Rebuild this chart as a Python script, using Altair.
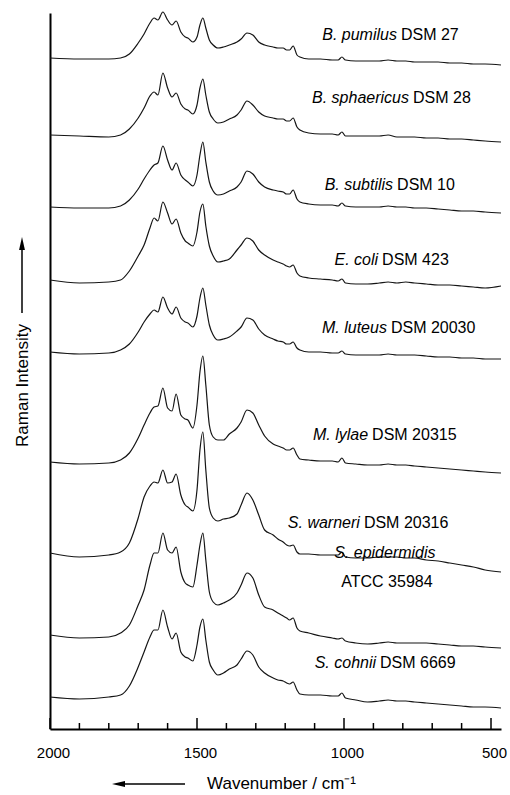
import altair as alt
import pandas as pd

WAVENUMBER = [2000, 1900, 1800, 1760, 1730, 1700, 1680, 1660, 1646, 1633,
              1616, 1600, 1585, 1571, 1555, 1540, 1531, 1514, 1500, 1490,
              1480, 1470, 1458, 1445, 1429, 1410, 1390, 1364, 1350, 1330,
              1310, 1290, 1270, 1241, 1225, 1207, 1195, 1185, 1173, 1160,
              1150, 1120, 1080, 1040, 1020, 1007, 995, 960, 920, 880,
              850, 820, 790, 760, 720, 680, 640, 600, 560, 520, 466]

# Offset Raman intensities (a.u.), one list per strain
B_PUMILUS = [671, 670, 670, 671, 675, 686, 695, 706, 711, 709,
             717, 709, 704, 708, 697, 692, 691, 687, 692, 704,
             711, 701, 689, 684, 681, 682, 684, 687, 690, 696,
             694, 687, 684, 682, 681, 681, 679, 679, 683, 674,
             672, 670, 670, 669, 669, 672, 669, 668, 668, 668,
             669, 668, 668, 667, 667, 667, 666, 666, 665, 665, 664]
B_SPHAERICUS = [594, 593, 592, 594, 600, 611, 621, 633, 637, 634,
                656, 641, 632, 636, 625, 620, 619, 615, 624, 641,
                650, 634, 617, 610, 606, 607, 610, 614, 619, 628,
                624, 617, 613, 611, 610, 610, 608, 608, 611, 602,
                599, 596, 595, 595, 594, 597, 593, 593, 593, 593,
                594, 592, 592, 592, 591, 591, 590, 590, 589, 588, 587]
B_SUBTILIS = [522, 521, 521, 523, 529, 540, 550, 559, 564, 566,
              583, 569, 559, 566, 554, 549, 547, 543, 554, 574,
              587, 567, 547, 538, 534, 535, 538, 542, 547, 558,
              555, 547, 542, 539, 538, 537, 535, 535, 539, 530,
              527, 525, 524, 524, 523, 526, 523, 522, 522, 522,
              523, 522, 522, 521, 521, 520, 519, 518, 518, 517, 516]
E_COLI = [449, 446, 447, 449, 458, 473, 484, 501, 511, 508,
          527, 516, 505, 510, 496, 488, 486, 483, 497, 517,
          525, 503, 483, 473, 467, 468, 470, 479, 484, 491,
          488, 479, 474, 469, 467, 465, 463, 462, 464, 456,
          453, 451, 450, 449, 448, 450, 446, 445, 445, 446,
          447, 446, 447, 446, 445, 444, 444, 443, 442, 441, 443]
M_LUTEUS = [377, 375, 376, 379, 385, 397, 407, 415, 419, 417,
            432, 421, 415, 422, 411, 407, 406, 402, 413, 431,
            441, 424, 404, 394, 389, 390, 392, 398, 402, 411,
            409, 400, 394, 390, 388, 387, 385, 385, 387, 381,
            379, 377, 377, 376, 376, 378, 375, 374, 374, 374,
            375, 374, 374, 374, 373, 372, 372, 371, 371, 370, 370]
M_LYLAE = [267, 265, 266, 269, 276, 291, 304, 316, 322, 323,
           341, 321, 318, 335, 314, 310, 309, 301, 324, 357,
           373, 344, 304, 292, 289, 289, 295, 301, 307, 319,
           316, 304, 293, 285, 283, 281, 279, 279, 281, 274,
           270, 269, 268, 268, 267, 271, 266, 265, 264, 264,
           265, 264, 264, 263, 262, 261, 260, 259, 258, 257, 256]
S_WARNERI = [176, 172, 174, 177, 186, 211, 232, 243, 247, 246,
             259, 246, 247, 255, 234, 224, 222, 218, 239, 279,
             297, 259, 221, 211, 208, 210, 211, 215, 224, 236,
             229, 214, 199, 194, 190, 187, 184, 183, 184, 177,
             175, 175, 174, 174, 174, 177, 172, 171, 171, 172,
             172, 172, 171, 171, 169, 168, 166, 164, 162, 159, 157]
S_EPIDERMIDIS = [94, 91, 92, 96, 104, 124, 139, 164, 176, 176,
                 196, 179, 176, 182, 157, 146, 144, 142, 164, 184,
                 196, 169, 137, 127, 124, 126, 129, 136, 144, 156,
                 151, 134, 122, 119, 116, 113, 111, 109, 111, 101,
                 98, 96, 93, 91, 90, 91, 88, 86, 85, 86,
                 87, 86, 86, 86, 86, 85, 84, 83, 83, 82, 81]
S_COHNII = [32, 30, 32, 34, 43, 62, 77, 92, 99, 99,
            119, 102, 90, 96, 77, 72, 71, 68, 84, 102,
            110, 89, 67, 59, 54, 56, 60, 64, 70, 78,
            74, 62, 56, 51, 49, 48, 46, 45, 47, 39,
            35, 34, 34, 33, 33, 36, 31, 29, 27, 28,
            29, 28, 28, 27, 26, 25, 24, 23, 22, 22, 21]

STRAINS = ["B. pumilus DSM 27", "B. sphaericus DSM 28", "B. subtilis DSM 10",
           "E. coli DSM 423", "M. luteus DSM 20030", "M. lylae DSM 20315",
           "S. warneri DSM 20316", "S. epidermidis ATCC 35984", "S. cohnii DSM 6669"]
SERIES = [B_PUMILUS, B_SPHAERICUS, B_SUBTILIS, E_COLI, M_LUTEUS, M_LYLAE,
          S_WARNERI, S_EPIDERMIDIS, S_COHNII]

# Labels: italic species part + upright strain part, split at LABEL_WN
LABEL_SPECIES = ["B. pumilus", "B. sphaericus", "B. subtilis", "E. coli",
                 "M. luteus", "M. lylae", "S. warneri", "S. cohnii"]
LABEL_STRAIN = ["DSM 27", "DSM 28", "DSM 10", "DSM 423",
                "DSM 20030", "DSM 20315", "DSM 20316", "DSM 6669"]
LABEL_WN = [820, 779, 833, 884, 854, 918, 946, 891]
LABEL_INT = [694, 631, 544, 469, 401, 294, 206, 66]

# Two-line label for S. epidermidis (centred)
CENTER_ITALIC = ["S. epidermidis"]
CENTER_ITALIC_WN = [861]
CENTER_ITALIC_INT = [176]
CENTER_NORMAL = ["ATCC 35984"]
CENTER_NORMAL_WN = [854]
CENTER_NORMAL_INT = [147]

MAJOR_TICKS = [2000, 1500, 1000, 500]
MINOR_TICKS = [1900, 1800, 1700, 1600, 1400, 1300, 1200, 1100, 900, 800, 700, 600]

rows = []
for name, vals in zip(STRAINS, SERIES):
    assert len(vals) == len(WAVENUMBER), name
    for w, v in zip(WAVENUMBER, vals):
        rows.append({"strain": name, "wn": w, "intensity": v})
df = pd.DataFrame(rows)

FONT = "Liberation Sans"
W, H = 451, 716
x_scale = alt.Scale(domain=[466, 2000], reverse=True, nice=False, zero=False)
y_scale = alt.Scale(domain=[0, 716], nice=False, zero=False)

lines = alt.Chart(df).mark_line(
    color="#151515", strokeWidth=1.2, interpolate="monotone"
).encode(
    x=alt.X("wn:Q", scale=x_scale, axis=alt.Axis(
        values=MAJOR_TICKS, format="d", title="Wavenumber / cm⁻¹",
        ticks=False, tickSize=0, grid=False, labelFlush=False, labelOffset=3,
        labelFont=FONT, labelFontSize=15, labelColor="black", labelPadding=16,
        domainColor="black", domainWidth=2,
        titleFont=FONT, titleFontSize=17, titleFontWeight="normal", titleColor="black",
        titleX=231, titleY=54, titleAlign="center", titleBaseline="middle")),
    y=alt.Y("intensity:Q", scale=y_scale, axis=alt.Axis(
        labels=False, ticks=False, tickSize=0, grid=False,
        domainColor="black", domainWidth=2, title="Raman Intensity",
        titleFont=FONT, titleFontSize=17, titleFontWeight="normal", titleColor="black",
        titleAngle=270, titleX=-28, titleY=372, titleAlign="center",
        titleBaseline="middle")),
    detail="strain:N",
    order=alt.Order("wn:Q", sort="descending"),
)

major = alt.Chart(pd.DataFrame({"wn": MAJOR_TICKS})).mark_rule(
    color="black", strokeWidth=1.5
).encode(x=alt.X("wn:Q", scale=x_scale), y=alt.value(H), y2=alt.value(H - 11))

minor = alt.Chart(pd.DataFrame({"wn": MINOR_TICKS})).mark_rule(
    color="black", strokeWidth=1.5
).encode(x=alt.X("wn:Q", scale=x_scale), y=alt.value(H), y2=alt.value(H - 6))

lab_df = pd.DataFrame({"wn": LABEL_WN, "intensity": LABEL_INT,
                       "species": LABEL_SPECIES, "strainlab": LABEL_STRAIN})

lab_it = alt.Chart(lab_df).mark_text(
    align="right", baseline="middle", font=FONT, fontSize=16,
    fontStyle="italic", color="black"
).encode(x=alt.X("wn:Q", scale=x_scale), y=alt.Y("intensity:Q", scale=y_scale),
         text="species:N")

lab_no = alt.Chart(lab_df).mark_text(
    align="left", baseline="middle", dx=4, font=FONT, fontSize=16,
    fontStyle="normal", color="black"
).encode(x=alt.X("wn:Q", scale=x_scale), y=alt.Y("intensity:Q", scale=y_scale),
         text="strainlab:N")

c_it = alt.Chart(pd.DataFrame({"wn": CENTER_ITALIC_WN, "intensity": CENTER_ITALIC_INT,
                               "t": CENTER_ITALIC})).mark_text(
    align="center", baseline="middle", font=FONT, fontSize=16,
    fontStyle="italic", color="black"
).encode(x=alt.X("wn:Q", scale=x_scale), y=alt.Y("intensity:Q", scale=y_scale),
         text="t:N")

c_no = alt.Chart(pd.DataFrame({"wn": CENTER_NORMAL_WN, "intensity": CENTER_NORMAL_INT,
                               "t": CENTER_NORMAL})).mark_text(
    align="center", baseline="middle", font=FONT, fontSize=16,
    fontStyle="normal", color="black"
).encode(x=alt.X("wn:Q", scale=x_scale), y=alt.Y("intensity:Q", scale=y_scale),
         text="t:N")

one = pd.DataFrame({"a": [0]})
y_shaft = alt.Chart(one).mark_rule(color="black", strokeWidth=1.5).encode(
    x=alt.value(-28), y=alt.value(229), y2=alt.value(300))
y_head = alt.Chart(one).mark_point(
    shape="M0,-1L0.45,1L-0.45,1Z", filled=True, color="black", opacity=1, size=169
).encode(x=alt.value(-28), y=alt.value(230.5))
x_shaft = alt.Chart(one).mark_rule(color="black", strokeWidth=1.5).encode(
    x=alt.value(67), x2=alt.value(135), y=alt.value(771))
x_head = alt.Chart(one).mark_point(
    shape="M-1,0L1,-0.45L1,0.45Z", filled=True, color="black", opacity=1, size=169
).encode(x=alt.value(68.5), y=alt.value(771))

chart = alt.layer(
    lines, major, minor, lab_it, lab_no, c_it, c_no, y_shaft, y_head, x_shaft, x_head
).properties(
    width=W, height=H,
    autosize=alt.AutoSizeParams(type="none"),
    padding={"left": 50, "top": 13, "right": 9, "bottom": 66},
    background="white",
).configure_view(stroke=None)

chart.save("out.html", embed_options={"renderer": "svg", "actions": False})
